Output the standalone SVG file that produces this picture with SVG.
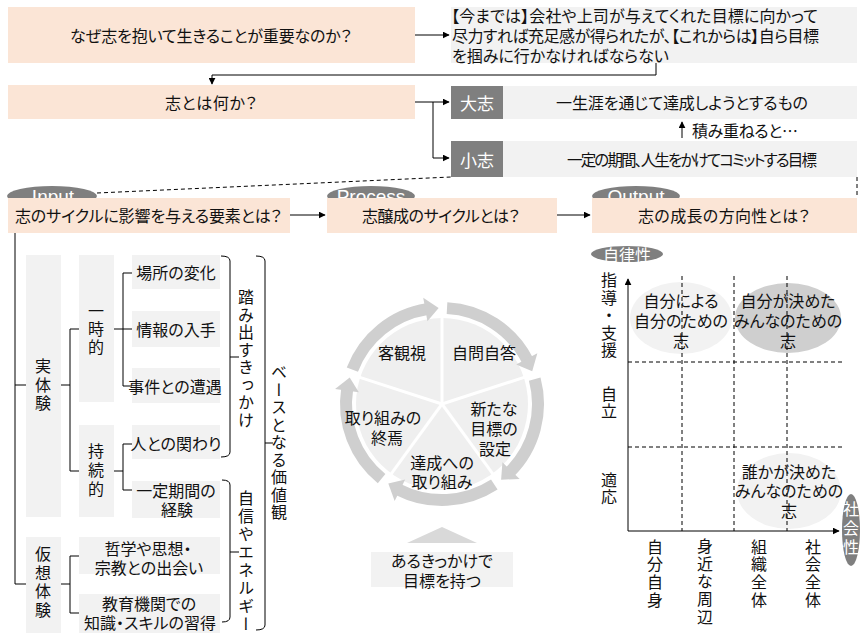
<svg xmlns="http://www.w3.org/2000/svg" width="865" height="633" viewBox="0 0 865 633">
<defs>
<style>
.t{font-family:"Noto Sans CJK JP","Noto Sans",sans-serif;font-size:16px;fill:#111;font-feature-settings:"palt";dominant-baseline:central}
.m{text-anchor:middle}
.v{writing-mode:vertical-rl;text-anchor:middle;font-feature-settings:normal}
.w{fill:#fff}
.en{font-family:"Liberation Sans",Arial,sans-serif;font-size:19px;fill:#fff;text-anchor:middle}
.pe{fill:#FBE5D6}
.gy{fill:#F2F2F2}
.dk{fill:#7F7F7F}
.ln{fill:none;stroke:#000;stroke-width:1}
.ar{marker-end:url(#ah)}
.ds{fill:none;stroke:#000;stroke-width:1;stroke-dasharray:4 3}
.ring{fill:none;stroke:#CFCFCF;stroke-width:12}
.rh{fill:#CFCFCF}
</style>
<marker id="ah" viewBox="0 0 10 10" refX="9" refY="5" markerWidth="7" markerHeight="7" markerUnits="userSpaceOnUse" orient="auto"><path d="M0 0L10 5L0 10z" fill="#000"/></marker>
<g id="seg"><path class="ring" d="M5.02 -95.87A96 96 0 0 1 85.54 -43.58"/><path class="rh" d="M74.17 -39.44L95.36 -50.70L90.21 -32.83Z"/></g>
<line id="spoke" x1="0" y1="0" x2="0" y2="-88" stroke="#fff" stroke-width="3"/>
</defs>

<g id="n-why"><rect class="pe" x="8" y="7" width="407" height="56"/><text class="t m" x="211" y="35" textLength="282">なぜ志を抱いて生きることが重要なのか？</text></g>
<g id="n-now"><rect class="gy" x="451" y="7" width="406" height="56"/>
<text class="t"><tspan x="451" y="15" textLength="367">【今までは】会社や上司が与えてくれた目標に向かって</tspan><tspan x="452" y="35" textLength="367">尽力すれば充足感が得られたが、【これからは】自ら目標</tspan><tspan x="452" y="55" textLength="217">を掴みに行かなければならない</tspan></text></g>
<g id="n-what"><rect class="pe" x="8" y="85" width="407" height="34"/><text class="t m" x="211" y="102" textLength="92">志とは何か？</text></g>
<g id="n-dai"><rect class="gy" x="451" y="86" width="406" height="33"/><rect class="dk" x="451" y="86" width="52" height="33"/><text class="t m w" x="477" y="102" style="font-size:17px">大志</text><text class="t m" x="682" y="102" textLength="252">一生涯を通じて達成しようとするもの</text></g>
<g id="n-stack"><text class="t" x="692" y="130" textLength="106">積み重ねると…</text></g>
<g id="n-sho"><rect class="gy" x="451" y="141" width="406" height="36"/><rect class="dk" x="451" y="141" width="52" height="36"/><text class="t m w" x="477" y="159" style="font-size:17px">小志</text><text class="t m" x="692" y="159" style="font-size:15.5px" textLength="250">一定の期間、人生をかけてコミットする目標</text></g>

<g id="n-input"><ellipse class="dk" cx="52" cy="196" rx="45" ry="10"/><text class="en" x="53" y="203">Input</text><rect class="pe" x="8" y="198" width="282" height="35"/><text class="t" x="15" y="215" textLength="267">志のサイクルに影響を与える要素とは？</text></g>
<g id="n-process"><ellipse class="dk" cx="371" cy="196" rx="44" ry="10"/><text class="en" x="371" y="203">Process</text><rect class="pe" x="327" y="198" width="230" height="35"/><text class="t m" x="441" y="215" textLength="158">志醸成のサイクルとは？</text></g>
<g id="n-output"><ellipse class="dk" cx="636" cy="196" rx="44" ry="10"/><text class="en" x="636" y="203">Output</text><rect class="pe" x="592" y="198" width="265" height="35"/><text class="t m" x="724" y="215" textLength="172">志の成長の方向性とは？</text></g>

<g id="n-jitaiken"><rect class="gy" x="26" y="255" width="35" height="262"/><text class="t v" x="43" y="386" style="letter-spacing:2.5px">実体験</text></g>
<g id="n-ichiji"><rect class="gy" x="79" y="255" width="35" height="147"/><text class="t v" x="96" y="330" style="letter-spacing:2px">一時的</text></g>
<g id="n-jizoku"><rect class="gy" x="79" y="425" width="35" height="92"/><text class="t v" x="96" y="471" style="letter-spacing:3px">持続的</text></g>
<g id="n-kaso"><rect class="gy" x="26" y="537" width="35" height="96"/><text class="t v" x="43" y="583" style="letter-spacing:2.5px">仮想体験</text></g>
<g id="n-basho"><rect class="gy" x="132" y="255" width="88" height="34"/><text class="t m" x="176" y="272">場所の変化</text></g>
<g id="n-joho"><rect class="gy" x="132" y="311" width="88" height="36"/><text class="t m" x="176" y="329">情報の入手</text></g>
<g id="n-jiken"><rect class="gy" x="132" y="368" width="88" height="35"/><text class="t m" x="175" y="386">事件との遭遇</text></g>
<g id="n-hito"><rect class="gy" x="132" y="425" width="88" height="34"/><text class="t m" x="176" y="443">人との関わり</text></g>
<g id="n-ittei"><rect class="gy" x="132" y="481" width="88" height="37"/><text class="t m"><tspan x="176" y="490">一定期間の</tspan><tspan x="177" y="509">経験</tspan></text></g>
<g id="n-tetsu"><rect class="gy" x="79" y="537" width="141" height="37"/><text class="t m"><tspan x="148" y="548">哲学や思想・</tspan><tspan x="149" y="567">宗教との出会い</tspan></text></g>
<g id="n-kyoiku"><rect class="gy" x="79" y="594" width="141" height="39"/><text class="t m"><tspan x="149" y="603">教育機関での</tspan><tspan x="150" y="622">知識・スキルの習得</tspan></text></g>
<g id="n-fumidasu"><text class="t v" x="246" y="359" style="letter-spacing:1.5px">踏み出すきっかけ</text></g>
<g id="n-jishin"><text class="t v" x="246" y="562" style="letter-spacing:2px">自信やエネルギー</text></g>
<g id="n-base"><text class="t v" x="279" y="443" style="letter-spacing:1.5px">ベースとなる価値観</text></g>

<g id="n-cycle">
<g transform="translate(442 404)">
<circle r="86" fill="#EFEFEF"/>
<use href="#spoke"/><use href="#spoke" transform="rotate(72)"/><use href="#spoke" transform="rotate(144)"/><use href="#spoke" transform="rotate(216)"/><use href="#spoke" transform="rotate(288)"/>
<use href="#seg"/><use href="#seg" transform="rotate(72)"/><use href="#seg" transform="rotate(144)"/><use href="#seg" transform="rotate(216)"/><use href="#seg" transform="rotate(288)"/>
</g>
<text class="t m" x="402" y="352">客観視</text>
<text class="t m" x="484" y="352">自問自答</text>
<text class="t m"><tspan x="494" y="408">新たな</tspan><tspan x="494" y="428">目標の</tspan><tspan x="495" y="448">設定</tspan></text>
<text class="t m"><tspan x="442" y="462">達成への</tspan><tspan x="442" y="481">取り組み</tspan></text>
<text class="t m"><tspan x="383" y="417">取り組みの</tspan><tspan x="387" y="437">終焉</tspan></text>
</g>
<g id="n-start"><path d="M407 543L477 543L442 527Z" fill="#D9D9D9"/><rect class="gy" x="371" y="552" width="142" height="35"/><text class="t m"><tspan x="442" y="560">あるきっかけで</tspan><tspan x="442" y="580">目標を持つ</tspan></text></g>

<g id="n-chart">
<ellipse cx="627" cy="254" rx="36" ry="8" class="dk"/><text class="t m w" x="627" y="254">自律性</text>
<ellipse cx="681" cy="318" rx="51" ry="36" fill="#F2F2F2"/>
<ellipse cx="788" cy="318" rx="53" ry="35" fill="#CFCFCF"/>
<ellipse cx="789" cy="491" rx="52" ry="38" fill="#F2F2F2"/>
<path class="ds" d="M682 276V531M734 276V531M787 276V531M628 362H842M628 447H842"/>
<path class="ln ar" d="M628 531V279"/>
<path class="ln ar" d="M628 531H839"/>
<ellipse cx="851" cy="530" rx="9" ry="36" class="dk"/><text class="t v w" x="851" y="529" style="letter-spacing:3px">社会性</text>
<text class="t m"><tspan x="681" y="300">自分による</tspan><tspan x="681" y="320">自分のための</tspan><tspan x="681" y="340">志</tspan></text>
<text class="t m"><tspan x="788" y="300">自分が決めた</tspan><tspan x="788" y="320">みんなのための</tspan><tspan x="788" y="340">志</tspan></text>
<text class="t m"><tspan x="789" y="471">誰かが決めた</tspan><tspan x="789" y="490">みんなのための</tspan><tspan x="789" y="510">志</tspan></text>
<text class="t v" x="609" y="316" style="letter-spacing:1.5px">指導・支援</text>
<text class="t v" x="609" y="403" style="letter-spacing:1.5px">自立</text>
<text class="t v" x="609" y="489" style="letter-spacing:1.5px">適応</text>
<text class="t v" x="655" y="574" style="letter-spacing:1.7px">自分自身</text>
<text class="t v" x="705" y="582" style="letter-spacing:1.7px">身近な周辺</text>
<text class="t v" x="759" y="574" style="letter-spacing:1.7px">組織全体</text>
<text class="t v" x="813" y="574" style="letter-spacing:1.7px">社会全体</text>
</g>

<g id="connectors">
<path class="ln ar" d="M415 35H449"/>
<path class="ln ar" d="M656 63V75H212V84"/>
<path class="ln ar" d="M415 102H449"/>
<path class="ln ar" d="M433 102V158H449"/>
<path class="ln ar" d="M682 138V122"/>
<path class="ds" d="M97 193L451 177M857 177V198"/>
<path class="ln ar" d="M290 215H325"/>
<path class="ln ar" d="M557 215H590"/>
<path class="ln" d="M15 233V584H26M15 385H26"/>
<path class="ln" d="M61 385H70M79 329H70V471H79"/>
<path class="ln" d="M114 329H123M132 273H123V386H132M123 329H132"/>
<path class="ln" d="M114 471H123M132 444H123V490H132"/>
<path class="ln" d="M61 584H70M79 556H70V613H79"/>
<path class="ln" d="M221 256Q230 256 230 261V452Q230 457 221 457M230 357H239"/>
<path class="ln" d="M222 480Q230 480 230 485V617Q230 622 222 622M230 552H239"/>
<path class="ln" d="M256 256Q265 256 265 261V625Q265 630 256 630M265 443H273"/>
</g>
</svg>
